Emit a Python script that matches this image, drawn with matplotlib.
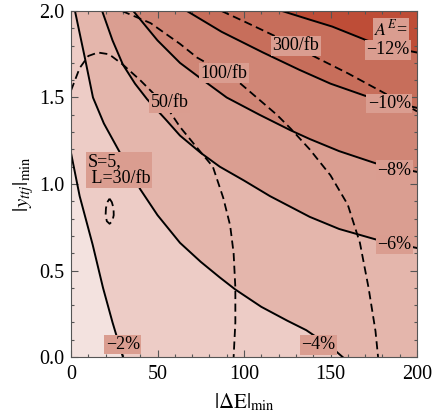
import matplotlib
matplotlib.use("Agg")
import matplotlib.pyplot as plt
import numpy as np

plt.rcParams["font.family"] = ["Liberation Serif", "DejaVu Serif"]
plt.rcParams["mathtext.fontset"] = "stix"

# A^E contours (solid): (|dE|_min, |y_ttj|_min)
ae_levels = ["−2%", "−4%", "−6%", "−8%", "−10%", "−12%"]
ae_m2 = [(0, 1.18), (5, 0.93), (12.5, 0.65), (18.5, 0.40), (24, 0.20), (30, 0.0)]
ae_m4 = [(2.3, 2.0), (8, 1.73), (12.7, 1.50), (19, 1.35), (30, 1.15), (40, 0.97),
         (50, 0.82), (63, 0.66), (75, 0.55), (86, 0.46), (95, 0.39), (110, 0.29),
         (125, 0.21), (136, 0.155), (150, 0.06), (157, 0.0)]
ae_m6 = [(18, 2.0), (24, 1.83), (30, 1.69), (37, 1.58), (44, 1.49), (55, 1.37),
         (63, 1.28), (75, 1.18), (86, 1.10), (100, 1.02), (115, 0.93), (138, 0.81),
         (155, 0.74), (176, 0.68), (200, 0.63)]
ae_m8 = [(36, 2.0), (50, 1.83), (63, 1.70), (75, 1.61), (90, 1.50), (109, 1.40),
         (127, 1.31), (138, 1.26), (155, 1.19), (176, 1.12), (200, 1.07)]
ae_m10 = [(67, 2.0), (87, 1.88), (111, 1.76), (132, 1.66), (150, 1.58), (170, 1.51),
          (200, 1.44)]
ae_m12 = [(122, 2.0), (138, 1.95), (151, 1.91), (171, 1.83), (185, 1.79), (200, 1.76)]
ae_curves = [ae_m2, ae_m4, ae_m6, ae_m8, ae_m10, ae_m12]

# S=5 reach contours (dashed) for several luminosities
lumi_labels = ["50/fb", "100/fb", "300/fb"]
lumi_30 = [(22.3, 0.915), (23.6, 0.895), (24.6, 0.86), (24.7, 0.82), (23.9, 0.785),
           (22.3, 0.77), (20.7, 0.785), (20.0, 0.82), (20.2, 0.86), (21.0, 0.895),
           (22.3, 0.915)]
lumi_50 = [(0, 1.54), (5, 1.67), (10, 1.74), (15.6, 1.76), (22, 1.75), (30, 1.69),
           (40, 1.60), (47, 1.53), (57, 1.42), (63, 1.33), (72, 1.22), (82, 1.10),
           (88, 0.92), (92, 0.76), (94, 0.60), (95, 0.40), (95, 0.20), (94, 0.0)]
lumi_100 = [(29.5, 2.0), (46, 1.93), (63, 1.81), (73, 1.73), (89, 1.64), (98, 1.58),
            (119, 1.40), (127, 1.32), (138, 1.20), (150, 1.05), (160, 0.88),
            (167, 0.66), (172, 0.40), (176, 0.15), (177.5, 0.0)]
lumi_300 = [(87, 2.0), (100, 1.94), (119, 1.85), (142, 1.73), (160, 1.64), (184, 1.51),
            (200, 1.42)]

# region colours, lightest (above -2%) to darkest (below -12%)
fill_colors = ["#F3E2DF", "#EDCCC6", "#E4B6AC", "#DA9E91", "#D08676", "#C76E5B", "#BE4D37"]
box_color = "#DA9D90"

XMAX, YMAX = 200, 2.0


def lower_left(curve):
    xs = [p[0] for p in curve]
    ys = [p[1] for p in curve]
    if xs[-1] >= XMAX:
        xs.append(XMAX); ys.append(0)
    xs.append(0); ys.append(0)
    if ys[0] >= YMAX:
        xs.append(0); ys.append(YMAX)
    return xs, ys


fig = plt.figure(figsize=(4.34, 4.19), dpi=100)
ax = fig.add_axes([71 / 434, 1 - 357 / 419, 346 / 434, 346 / 419])

ax.fill([0, XMAX, XMAX, 0], [0, 0, YMAX, YMAX], color=fill_colors[-1], lw=0, zorder=1)
for i in range(len(ae_curves) - 1, -1, -1):
    xs, ys = lower_left(ae_curves[i])
    ax.fill(xs, ys, color=fill_colors[i], lw=0, zorder=1)

for c in ae_curves:
    ax.plot([p[0] for p in c], [p[1] for p in c], color="black", lw=1.4, zorder=3)
for c in [lumi_30, lumi_50, lumi_100, lumi_300]:
    ax.plot([p[0] for p in c], [p[1] for p in c], color="black", lw=1.3,
            dashes=(4.5, 2.5), zorder=3)

box = dict(boxstyle="square,pad=0.08", fc=box_color, ec="none")
tkw = dict(fontsize=13, ha="center", va="center", zorder=5, bbox=box)
ax.text(30, 0.072, ae_levels[0], **tkw)
ax.text(143, 0.07, ae_levels[1], **tkw)
ax.text(187, 0.65, ae_levels[2], **tkw)
ax.text(187, 1.08, ae_levels[3], **tkw)
ax.text(184, 1.465, ae_levels[4], **tkw)
ax.text(183, 1.775, ae_levels[5], **tkw)
ax.text(185, 1.895, r"$A^E$=", **tkw)
ax.text(57, 1.47, lumi_labels[0], **tkw)
ax.text(88.5, 1.64, lumi_labels[1], **tkw)
ax.text(130, 1.80, lumi_labels[2], **tkw)
ax.text(9.5, 1.08, "S=5,\n L=30/fb", fontsize=13, ha="left", va="center",
        zorder=5, bbox=box, linespacing=0.95)

ax.set_xlim(0, XMAX)
ax.set_ylim(0, YMAX)
ax.set_xticks(np.arange(0, 201, 50))
ax.set_xticks(np.arange(0, 201, 10), minor=True)
ax.set_yticks(np.arange(0, 2.01, 0.5))
ax.set_yticks(np.arange(0, 2.01, 0.1), minor=True)
ax.set_xticklabels(["0", "50", "100", "150", "200"])
ax.set_yticklabels(["0.0", "0.5", "1.0", "1.5", "2.0"])
ax.tick_params(which="both", direction="in", top=True, right=True, color="#555555",
               labelsize=14.5, width=0.8)
ax.tick_params(which="major", length=5)
ax.tick_params(which="minor", length=2.5)
ax.tick_params(axis="x", which="major", pad=6)
ax.tick_params(axis="y", which="major", pad=5)
for s in ax.spines.values():
    s.set_color("#555555")
    s.set_linewidth(0.8)
    s.set_zorder(6)

ax.set_xlabel(r"$|\Delta \mathrm{E}|_{\min}$", fontsize=15, labelpad=5)
ax.set_ylabel(r"$|y_{ttj}|_{\min}$", fontsize=15, labelpad=2)

fig.savefig("out.png", dpi=100)
